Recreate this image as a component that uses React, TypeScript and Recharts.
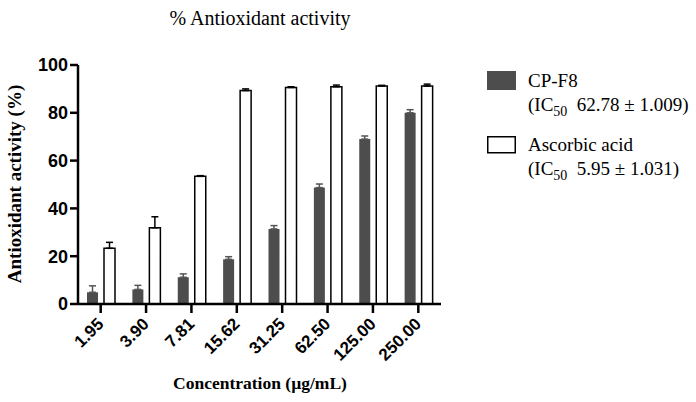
import React from 'react';
import { BarChart, Bar, XAxis, YAxis, ErrorBar, Customized } from 'recharts';

const categories = ['1.95', '3.90', '7.81', '15.62', '31.25', '62.50', '125.00', '250.00'];
const cpF8 = [4.9, 6.1, 11.2, 18.7, 31.4, 48.7, 69.0, 80.0];
const cpF8Err = [2.7, 1.7, 1.4, 1.1, 1.4, 1.5, 1.3, 1.3];
const ascorbic = [23.3, 31.9, 53.4, 89.3, 90.6, 90.9, 91.2, 91.2];
const ascorbicErr = [2.5, 4.6, 0.3, 0.7, 0.3, 0.7, 0.3, 0.8];
const yTicks = [0, 20, 40, 60, 80, 100];

const data = categories.map((c, i) => ({
  conc: c,
  cp: cpF8[i],
  cpErr: [0, cpF8Err[i]],
  asc: ascorbic[i],
  ascErr: [0, ascorbicErr[i]],
}));

const SERIF = "'Liberation Serif', 'Times New Roman', serif";
const SANS = "'Liberation Sans', Arial, sans-serif";

const XTick = (props: any) => {
  const { x, y, payload } = props;
  const ax = x + 4;
  const ay = y + 10;
  return (
    <text
      x={ax}
      y={ay}
      textAnchor="end"
      transform={`rotate(-45, ${ax}, ${ay})`}
      fontFamily={SANS}
      fontWeight={700}
      fontSize={17}
      fill="#000"
    >
      {payload.value}
    </text>
  );
};

const Overlay = () => (
  <g>
    <text x={260} y={25} textAnchor="middle" fontFamily={SERIF} fontSize={20} fill="#000">
      % Antioxidant activity
    </text>
    <text
      x={21}
      y={184}
      textAnchor="middle"
      transform="rotate(-90, 21, 184)"
      fontFamily={SERIF}
      fontWeight={700}
      fontSize={19}
      fill="#000"
    >
      Antioxidant activity (%)
    </text>
    <text x={260} y={389} textAnchor="middle" fontFamily={SERIF} fontWeight={700} fontSize={17.5} fill="#000">
      Concentration (µg/mL)
    </text>
    <rect x={487} y={71} width={29} height={19} fill="#4d4d4d" />
    <text x={528} y={87} fontFamily={SERIF} fontSize={19} fill="#000">CP-F8</text>
    <text x={528} y={111} fontFamily={SERIF} fontSize={19} fill="#000">
      (IC<tspan fontSize={14} dy={5}>50</tspan>
      <tspan dy={-5}>{'\u00a0 62.78 ± 1.009)'}</tspan>
    </text>
    <rect x={487.75} y={136.75} width={27.5} height={16} fill="#fff" stroke="#000" strokeWidth={1.5} />
    <text x={528} y={151} fontFamily={SERIF} fontSize={19} fill="#000">Ascorbic acid</text>
    <text x={528} y={175} fontFamily={SERIF} fontSize={19} fill="#000">
      (IC<tspan fontSize={14} dy={5}>50</tspan>
      <tspan dy={-5}>{'\u00a0 5.95 ± 1.031)'}</tspan>
    </text>
  </g>
);

export default function App() {
  return (
    <div style={{ position: 'absolute', left: 0, top: 0, width: 696, height: 402, background: '#fff' }}>
      <BarChart
        width={696}
        height={402}
        data={data}
        margin={{ top: 65, right: 255, bottom: 38, left: 0 }}
        barGap={6}
        barSize={11}
      >
        <XAxis
          dataKey="conc"
          height={60}
          interval={0}
          tick={<XTick />}
          tickSize={9}
          tickMargin={2}
          axisLine={{ stroke: '#000', strokeWidth: 2.5 }}
          tickLine={{ stroke: '#000', strokeWidth: 2.5 }}
        />
        <YAxis
          width={78}
          domain={[0, 100]}
          ticks={yTicks}
          interval={0}
          tickSize={8}
          tickMargin={2}
          allowDataOverflow
          axisLine={{ stroke: '#000', strokeWidth: 2.5 }}
          tickLine={{ stroke: '#000', strokeWidth: 2.5 }}
          tick={{ fontFamily: SANS, fontWeight: 700, fontSize: 18, fill: '#000' }}
        />
        <Bar dataKey="cp" fill="#4d4d4d" isAnimationActive={false}>
          <ErrorBar dataKey="cpErr" width={3.5} stroke="#555" strokeWidth={1.5} direction="y" />
        </Bar>
        <Bar dataKey="asc" fill="#fff" stroke="#000" strokeWidth={1.5} isAnimationActive={false}>
          <ErrorBar dataKey="ascErr" width={3.5} stroke="#000" strokeWidth={1.5} direction="y" />
        </Bar>
        <Customized component={Overlay} />
      </BarChart>
    </div>
  );
}
